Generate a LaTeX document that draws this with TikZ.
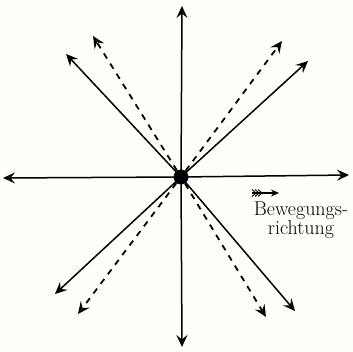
\documentclass[tikz,border=0pt]{standalone}
\usetikzlibrary{arrows.meta}
\begin{document}
\begin{tikzpicture}[x=1pt,y=-1pt,
  solidarrow/.style={line width=1.5pt,-{Stealth[length=12pt,width=11pt,inset=4.5pt]}},
  dasharrow/.style={line width=1.8pt,dash pattern=on 6pt off 6pt,-{Stealth[length=12pt,width=11pt,inset=4.5pt]}},
  ctrdot/.style={circle,fill=black,inner sep=0pt,minimum size=15pt},
  lbl/.style={font=\fontsize{20}{16}\selectfont,align=center,inner sep=0pt}]
\fill[white!96!yellow!60!white] (0,0) rectangle (353,352);
\useasboundingbox (0,0) rectangle (353,352);
\node[ctrdot] (c) at (181,177) {};
% tips
\coordinate (n) at (182,6);
\coordinate (s) at (182,347);
\coordinate (w) at (3,178);
\coordinate (e) at (349,175);
\coordinate (nwS) at (66,54);
\coordinate (nwD) at (93,36);
\coordinate (neS) at (308,61);
\coordinate (neD) at (282,41);
\coordinate (seS) at (295,311);
\coordinate (seD) at (266,317);
\coordinate (swS) at (55,294);
\coordinate (swD) at (78,314);
\draw[solidarrow] (c.center) -- (n);
\draw[solidarrow] (c.center) -- (s);
\draw[solidarrow] (c.center) -- (w);
\draw[solidarrow] (c.center) -- (e);
\draw[solidarrow] (c.center) -- (nwS);
\draw[solidarrow] (c.center) -- (neS);
\draw[solidarrow] (c.center) -- (seS);
\draw[solidarrow] (c.center) -- (swS);
\draw[dasharrow] (c) -- (nwD);
\draw[dasharrow] (c) -- (neD);
\draw[dasharrow] (c) -- (seD);
\draw[dasharrow] (c) -- (swD);
% small feathered arrow
\coordinate (fa) at (252,193);
\coordinate (fb) at (279,193);
\draw[line width=1.1pt,-{Stealth[length=8pt,width=7pt]}] (fa) -- (fb);
\foreach \dx in {4,7,10}{
  \draw[line width=0.9pt] ([xshift=\dx pt]fa) -- ++(-4,-3.5);
  \draw[line width=0.9pt] ([xshift=\dx pt]fa) -- ++(-4,3.5);
}
\node[lbl] (t) at (301,220) {Bewegungs-\\richtung};
\end{tikzpicture}
\end{document}
